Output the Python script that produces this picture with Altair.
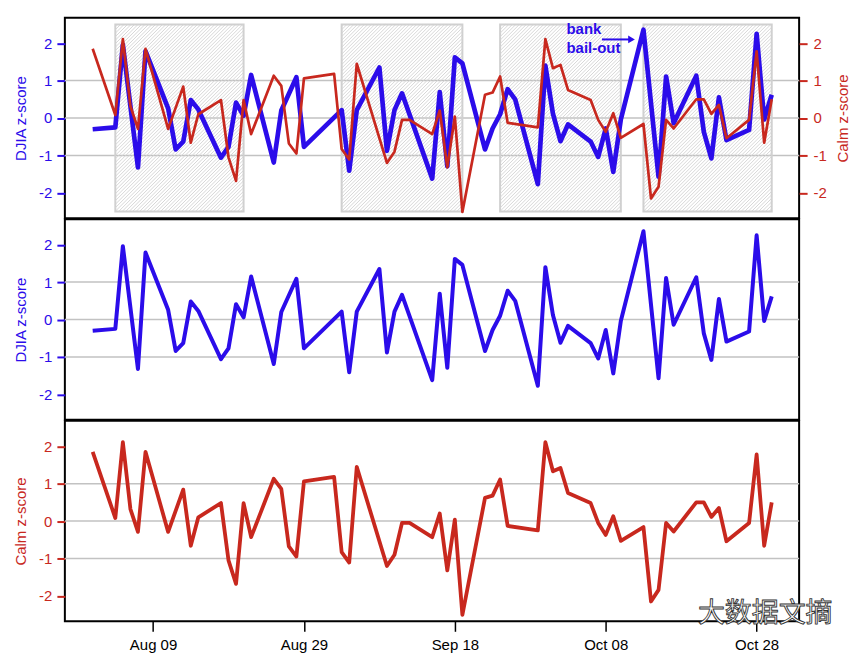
import altair as alt
import pandas as pd

# ---------------- data ----------------
djia_dates = ["2008-08-01", "2008-08-04", "2008-08-05", "2008-08-07", "2008-08-08",
              "2008-08-11", "2008-08-12", "2008-08-13", "2008-08-14", "2008-08-15",
              "2008-08-18", "2008-08-19", "2008-08-20", "2008-08-21", "2008-08-22",
              "2008-08-25", "2008-08-26", "2008-08-28", "2008-08-29",
              "2008-09-03", "2008-09-04", "2008-09-05",
              "2008-09-08", "2008-09-09", "2008-09-10", "2008-09-11",
              "2008-09-15", "2008-09-16", "2008-09-17", "2008-09-18", "2008-09-19",
              "2008-09-22", "2008-09-23", "2008-09-24", "2008-09-25", "2008-09-26",
              "2008-09-29", "2008-09-30",
              "2008-10-01", "2008-10-02", "2008-10-03",
              "2008-10-06", "2008-10-07", "2008-10-08", "2008-10-09", "2008-10-10",
              "2008-10-13", "2008-10-15", "2008-10-16", "2008-10-17",
              "2008-10-20", "2008-10-21", "2008-10-22", "2008-10-23", "2008-10-24",
              "2008-10-27", "2008-10-28", "2008-10-29", "2008-10-30"]
djia_values = [-0.30, -0.25, 1.96, -1.32, 1.79,
               0.26, -0.84, -0.63, 0.48, 0.23,
               -1.06, -0.77, 0.41, 0.06, 1.15,
               -1.19, 0.20, 1.09, -0.77,
               0.21, -1.41, 0.21,
               1.35, -0.88, 0.21, 0.66,
               -1.62, 0.69, -1.29, 1.62, 1.46,
               -0.84, -0.28, 0.10, 0.77, 0.50,
               -1.77, 1.40,
               0.12, -0.62, -0.17,
               -0.63, -1.04, -0.28, -1.44, -0.04,
               2.36, -1.57, 1.11, -0.14,
               1.13, -0.37, -1.08, 0.55, -0.59,
               -0.32, 2.25, -0.04, 0.62]

calm_dates = ["2008-08-01", "2008-08-04", "2008-08-05", "2008-08-06", "2008-08-07", "2008-08-08",
              "2008-08-11", "2008-08-13", "2008-08-14", "2008-08-15",
              "2008-08-18", "2008-08-19", "2008-08-20", "2008-08-21", "2008-08-22",
              "2008-08-25", "2008-08-26", "2008-08-27", "2008-08-28", "2008-08-29",
              "2008-09-02", "2008-09-03", "2008-09-04", "2008-09-05",
              "2008-09-09", "2008-09-10", "2008-09-11", "2008-09-12",
              "2008-09-15", "2008-09-16", "2008-09-17", "2008-09-18", "2008-09-19",
              "2008-09-22", "2008-09-23", "2008-09-24", "2008-09-25",
              "2008-09-29", "2008-09-30",
              "2008-10-01", "2008-10-02", "2008-10-03",
              "2008-10-06", "2008-10-07", "2008-10-08", "2008-10-09", "2008-10-10",
              "2008-10-13", "2008-10-14", "2008-10-15", "2008-10-16", "2008-10-17",
              "2008-10-20", "2008-10-21", "2008-10-22", "2008-10-23", "2008-10-24",
              "2008-10-27", "2008-10-28", "2008-10-29", "2008-10-30"]
calm_values = [1.85, 0.08, 2.11, 0.32, -0.29, 1.85,
               -0.29, 0.84, -0.66, 0.10,
               0.48, -1.05, -1.68, 0.48, -0.43,
               1.13, 0.86, -0.68, -0.95, 1.06,
               1.18, -0.83, -1.11, 1.45,
               -1.20, -0.90, -0.05, -0.05,
               -0.43, 0.20, -1.32, 0.04, -2.51,
               0.62, 0.68, 1.11, -0.13,
               -0.25, 2.11,
               1.33, 1.42, 0.75,
               0.48, -0.05, -0.37, 0.13, -0.53,
               -0.16, -2.15, -1.84, -0.05, -0.28,
               0.50, 0.50, 0.11, 0.35, -0.54,
               -0.05, 1.78, -0.66, 0.50]

shade_starts = ["2008-08-04", "2008-09-03", "2008-09-24", "2008-10-13"]
shade_ends = ["2008-08-21", "2008-09-19", "2008-10-10", "2008-10-30"]
shade_low, shade_high = -2.5, 2.5

x_tick_dates = ["2008-08-09", "2008-08-29", "2008-09-18", "2008-10-08", "2008-10-28"]
y_ticks = [-2, -1, 0, 1, 2]
grid_levels = [-1, 0, 1]

annot_labels = ["bank", "bail-out"]
annot_date = "2008-10-02 19:00"
annot_values = [2.37, 1.86]
arrow_from, arrow_to, arrow_value = "2008-10-07 12:00", "2008-10-11 10:00", 2.10

watermark = "大数据文摘"

# ---------------- style ----------------
BLUE = "#2b0cea"
RED = "#c8281e"
GRID = "#c2c2c2"
FONT = "Liberation Sans"
W, H = 736, 201
Y0, Y1 = -2.68, 2.68


def ms(s):
    return int(pd.Timestamp(s, tz="UTC").value // 10**6)


XD0, XD1 = ms("2008-07-28 07:30"), ms("2008-11-02 15:10")
xscale = alt.Scale(type="utc", domain=[XD0, XD1])
yscale = alt.Scale(domain=[Y0, Y1], nice=False, zero=False)

djia_df = pd.DataFrame({"date": djia_dates, "v": djia_values})
calm_df = pd.DataFrame({"date": calm_dates, "v": calm_values})
grid_df = pd.DataFrame({"v": grid_levels})
rect_df = pd.DataFrame({"s": [ms(d) for d in shade_starts], "e": [ms(d) for d in shade_ends],
                        "lo": shade_low, "hi": shade_high})

# diagonal hatching lines inside each shaded block (45 degrees on screen)
ppm = W / (XD1 - XD0)
ppu = H / (Y1 - Y0)
step = 3.5
rows = []
for s, e in zip(shade_starts, shade_ends):
    a, b = ms(s), ms(e)
    w = (b - a) * ppm
    h = (shade_high - shade_low) * ppu
    k = -h + step / 2
    while k < w:
        u0 = max(0.0, k)
        u1 = min(w, k + h)
        rows.append({"x": a + u0 / ppm, "x2": a + u1 / ppm,
                     "y": shade_low + (u0 - k) / ppu, "y2": shade_low + (u1 - k) / ppu})
        k += step
hatch_df = pd.DataFrame(rows)

annot_df = pd.DataFrame({"date": [ms(annot_date)] * 2, "v": annot_values, "t": annot_labels})
arrow_df = pd.DataFrame({"a": [ms(arrow_from)], "b": [ms(arrow_to)], "v": [arrow_value]})

xnone = dict(scale=xscale, axis=None)


def yaxis(title, color, orient="left"):
    kw = dict(values=y_ticks, title=title, titleColor=color, labelColor=color,
              tickColor=color, tickWidth=2, tickSize=8,
              labelExpr="'' + datum.value", orient=orient, domain=False, grid=False,
              titleFontWeight="normal")
    if orient == "right":
        kw.update(titleAngle=270, titleBaseline="top", titlePadding=9, labelPadding=6)
    else:
        kw.update(titlePadding=10, labelPadding=5)
    return alt.Axis(**kw)


def grid_layer(axis=None):
    return alt.Chart(grid_df).mark_rule(color=GRID, strokeWidth=1.5).encode(
        y=alt.Y("v:Q", scale=yscale, axis=axis))


# ---------------- top panel ----------------
rects = alt.Chart(rect_df).mark_rect(fillOpacity=0, stroke="#d0d0d0", strokeWidth=2).encode(
    x=alt.X("s:T", **xnone), x2="e:T",
    y=alt.Y("lo:Q", scale=yscale, axis=None), y2="hi:Q")
hatch = alt.Chart(hatch_df).mark_rule(color="#d2d2d2", strokeWidth=0.9).encode(
    x=alt.X("x:T", **xnone), x2="x2:T",
    y=alt.Y("y:Q", scale=yscale, axis=None), y2="y2:Q")
blue_top = alt.Chart(djia_df).mark_line(color=BLUE, strokeWidth=4.7, strokeJoin="round").encode(
    x=alt.X("date:T", **xnone),
    y=alt.Y("v:Q", scale=yscale, axis=yaxis("DJIA z-score", BLUE)))
red_top = alt.Chart(calm_df).mark_line(color=RED, strokeWidth=2.7, strokeJoin="round").encode(
    x=alt.X("date:T", **xnone),
    y=alt.Y("v:Q", scale=yscale, axis=yaxis("Calm z-score", RED, "right")))
annot = alt.Chart(annot_df).mark_text(align="left", baseline="middle", fontSize=15,
                                      fontWeight="bold", color=BLUE, font=FONT).encode(
    x=alt.X("date:T", **xnone), y=alt.Y("v:Q", scale=yscale, axis=None), text="t:N")
arrow = alt.Chart(arrow_df).mark_rule(color=BLUE, strokeWidth=2).encode(
    x=alt.X("a:T", **xnone), x2="b:T", y=alt.Y("v:Q", scale=yscale, axis=None))
head = alt.Chart(arrow_df).mark_point(shape="triangle-right", filled=True, size=60,
                                      color=BLUE, opacity=1).encode(
    x=alt.X("b:T", **xnone), y=alt.Y("v:Q", scale=yscale, axis=None))

top = alt.layer(grid_layer(), rects, hatch, blue_top, red_top, annot, arrow, head).resolve_axis(
    y="independent").properties(width=W, height=H)

# ---------------- middle panel ----------------
djia_axis = yaxis("DJIA z-score", BLUE)
blue_mid = alt.Chart(djia_df).mark_line(color=BLUE, strokeWidth=4, strokeJoin="round").encode(
    x=alt.X("date:T", **xnone),
    y=alt.Y("v:Q", scale=yscale, axis=djia_axis))
mid = alt.layer(grid_layer(djia_axis), blue_mid).properties(width=W, height=H)

# ---------------- bottom panel ----------------
calm_axis = yaxis("Calm z-score", RED)
xaxis = alt.Axis(values=[ms(d) for d in x_tick_dates], format="%b %d", title=None,
                 tickColor="black", tickWidth=1.5, tickSize=10, labelPadding=6,
                 labelColor="black", domain=False, grid=False)
red_bot = alt.Chart(calm_df).mark_line(color=RED, strokeWidth=3.8, strokeJoin="round").encode(
    x=alt.X("date:T", scale=xscale, axis=xaxis),
    y=alt.Y("v:Q", scale=yscale, axis=calm_axis))
wm = alt.Chart(pd.DataFrame({"t": [watermark]})).mark_text(
    font="Noto Sans CJK SC", fontSize=27, fill="white", stroke="#333333", strokeWidth=0.9,
    align="center", baseline="middle").encode(
    x=alt.value(702), y=alt.value(194), text="t:N")
bot = alt.layer(grid_layer(calm_axis), red_bot, wm).properties(width=W, height=H)

chart = alt.vconcat(top, mid, bot, spacing=-2).properties(
    padding={"left": 4, "top": 8, "right": 0, "bottom": 0}
).configure_view(stroke="black", strokeWidth=2).configure_axis(
    labelFont=FONT, titleFont=FONT, labelFontSize=15, titleFontSize=15)

chart.save("out.html", embed_options={"renderer": "svg", "actions": False})
